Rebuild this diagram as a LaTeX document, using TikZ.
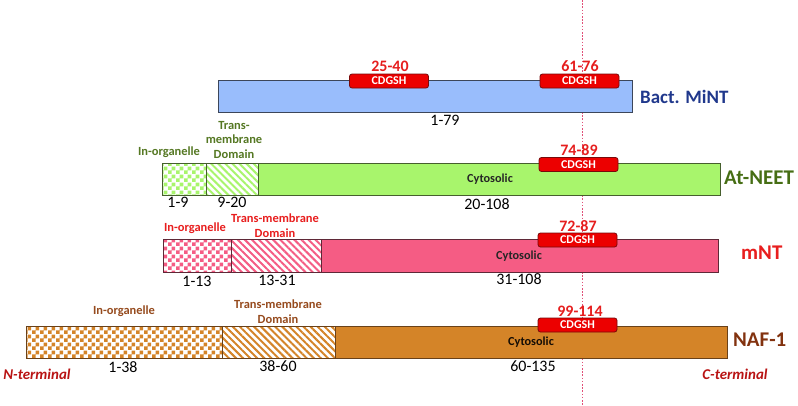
\documentclass[tikz,border=0pt]{standalone}
\usepackage{fontspec}
\setmainfont{Carlito}
\usetikzlibrary{patterns,patterns.meta}
\pgfdeclarepatternformonly{mychecker}{\pgfpointorigin}{\pgfqpoint{8bp}{8bp}}{\pgfqpoint{8bp}{8bp}}{%
  \pgfpathrectangle{\pgfpointorigin}{\pgfqpoint{4bp}{4bp}}%
  \pgfpathrectangle{\pgfqpoint{4bp}{4bp}}{\pgfqpoint{4bp}{4bp}}%
  \pgfusepath{fill}}
\definecolor{bactblue}{RGB}{153,189,252}
\definecolor{bactborder}{RGB}{60,70,90}
\definecolor{greenfill}{RGB}{168,245,108}
\definecolor{greenborder}{RGB}{70,95,45}
\definecolor{pinkfill}{RGB}{245,92,132}
\definecolor{pinkborder}{RGB}{95,40,55}
\definecolor{orangefill}{RGB}{212,132,40}
\definecolor{orangeborder}{RGB}{105,65,25}
\definecolor{cdgred}{RGB}{236,0,0}
\definecolor{cdgborder}{RGB}{120,10,10}
\definecolor{numred}{RGB}{230,30,30}
\definecolor{titleblue}{RGB}{32,56,140}
\definecolor{titlegreen}{RGB}{70,110,20}
\definecolor{titlered}{RGB}{232,30,30}
\definecolor{titlebrown}{RGB}{130,50,15}
\definecolor{labgreen}{RGB}{85,120,35}
\definecolor{labred}{RGB}{232,30,30}
\definecolor{labbrown}{RGB}{150,75,30}
\definecolor{termred}{RGB}{185,20,20}
\definecolor{dotpink}{RGB}{225,80,120}
\begin{document}
\begin{tikzpicture}[x=1bp,y=-1bp,
  seg/.style={draw, line width=0.9bp, anchor=north west, inner sep=0pt, outer sep=0pt, minimum height=32bp},
  stripes/.style={pattern={Lines[angle=-45,distance=5bp,line width=2bp]}},
  cdg/.style={draw=cdgborder, fill=cdgred, rounded corners=2.5bp, line width=0.8bp, minimum width=79bp, minimum height=14bp, inner sep=0pt, text=white, font=\fontsize{12}{12}\selectfont\bfseries},
  num/.style={font=\fontsize{16}{16}\selectfont, inner sep=0pt},
  rnum/.style={font=\fontsize{16}{16}\selectfont\bfseries, text=numred, inner sep=0pt},
  lab/.style={font=\fontsize{12.5}{15}\selectfont\bfseries, align=center, inner sep=0pt},
  title/.style={font=\fontsize{21}{21}\selectfont\bfseries, anchor=west, inner sep=0pt},
  cyto/.style={font=\fontsize{12.3}{13}\selectfont\bfseries, text=black!85, inner sep=0pt},
  term/.style={font=\fontsize{15}{15}\selectfont\bfseries\itshape, text=termred, inner sep=0pt},
  dotline/.style={draw=dotpink, line width=1.6bp, dash pattern=on 1.6bp off 1.6bp}]
\path[use as bounding box, fill=white] (0,0) rectangle (798,405);

% dotted reference line
\coordinate (dtop) at (582.5,0);
\coordinate (dbot) at (582.5,405);
\draw[dotline] (dtop) -- (dbot);

% Bact. MiNT
\node[seg, fill=bactblue, draw=bactborder, minimum width=414bp] (bact) at (218,80) {};
\node[cdg] (bc1) at (389,81) {CDGSH};
\node[cdg] (bc2) at (579.5,81) {CDGSH};
\node[rnum] (bn1) at (390,66) {25-40};
\node[rnum] (bn2) at (580,66) {61-76};
\node[num] (br) at (445,120) {1-79};
\node[title, text=titleblue, font=\fontsize{19}{19}\selectfont\bfseries] (bt) at (640,97) {Bact. MiNT};

% At-NEET
\node[seg, pattern=mychecker, pattern color=greenfill, draw=greenborder, minimum width=44bp] (a1) at (162,163) {};
\node[seg, stripes, pattern color=greenfill, draw=greenborder, minimum width=52bp] (a2) at (206,163) {};
\node[seg, fill=greenfill, draw=greenborder, minimum width=462bp] (a3) at (258,163) {};
\node[cdg] (ac) at (578.5,164.5) {CDGSH};
\node[rnum] (an) at (579,150.5) {74-89};
\node[lab, text=labgreen] (al1) at (169,152) {In-organelle};
\node[lab, text=labgreen] (al2) at (234,140) {Trans-\\membrane\\Domain};
\node[cyto] (acy) at (490,179) {Cytosolic};
\node[num] (ar1) at (178,202) {1-9};
\node[num] (ar2) at (232,202) {9-20};
\node[num] (ar3) at (487,204) {20-108};
\node[title, text=titlegreen] (at) at (724,178) {At-NEET};

% mNT
\node[seg, pattern=mychecker, pattern color=pinkfill, draw=pinkborder, minimum width=68bp, minimum height=33bp] (m1) at (163,239) {};
\node[seg, stripes, pattern color=pinkfill, draw=pinkborder, minimum width=90bp, minimum height=33bp] (m2) at (231,239) {};
\node[seg, fill=pinkfill, draw=pinkborder, minimum width=397bp, minimum height=33bp] (m3) at (321,239) {};
\node[cdg] (mc) at (577.5,240) {CDGSH};
\node[rnum] (mn) at (578,226.5) {72-87};
\node[lab, text=labred] (ml1) at (195,228) {In-organelle};
\node[lab, text=labred] (ml2) at (275,226) {Trans-membrane\\Domain};
\node[cyto] (mcy) at (519,256) {Cytosolic};
\node[num] (mr1) at (197,281) {1-13};
\node[num] (mr2) at (277,280) {13-31};
\node[num] (mr3) at (519,279) {31-108};
\node[title, text=titlered] (mt) at (741,253) {mNT};

% NAF-1
\node[seg, pattern=mychecker, pattern color=orangefill, draw=orangeborder, minimum width=196bp] (n1) at (26,326) {};
\node[seg, stripes, pattern color=orangefill, draw=orangeborder, minimum width=113bp] (n2) at (222,326) {};
\node[seg, fill=orangefill, draw=orangeborder, minimum width=392bp] (n3) at (335,326) {};
\node[cdg] (nc) at (577.5,325) {CDGSH};
\node[rnum] (nn) at (580,311) {99-114};
\node[lab, text=labbrown] (nl1) at (124,311) {In-organelle};
\node[lab, text=labbrown] (nl2) at (278,312) {Trans-membrane\\Domain};
\node[cyto, text=black!80!orangeborder] (ncy) at (531,342) {Cytosolic};
\node[num] (nr1) at (123,367) {1-38};
\node[num] (nr2) at (278,366) {38-60};
\node[num] (nr3) at (533,366) {60-135};
\node[title, text=titlebrown] (nt) at (733,340) {NAF-1};
\node[term] (nterm) at (37,374) {N-terminal};
\node[term] (cterm) at (735,374) {C-terminal};
\end{tikzpicture}
\end{document}
